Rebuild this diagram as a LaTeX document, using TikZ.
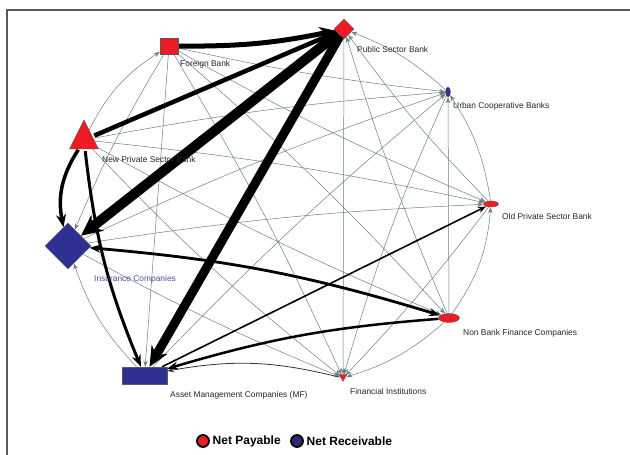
\documentclass[tikz,border=0pt]{standalone}
\usepackage{fontspec}
\setmainfont{Liberation Sans}
\usetikzlibrary{shapes.geometric,arrows.meta}
\definecolor{nred}{HTML}{ED1C24}
\definecolor{nblue}{HTML}{2E3192}
\definecolor{legblue}{HTML}{2B2D6E}
\definecolor{thinc}{RGB}{105,128,128}
\definecolor{framec}{HTML}{5A5A5A}
\pgfdeclarelayer{bg}
\pgfsetlayers{bg,main}
\begin{document}
\begin{tikzpicture}[x=1pt,y=1pt,
  lbl/.style={anchor=west,inner sep=0pt,font=\fontsize{8.4}{10}\selectfont,text=black!85},
  thinedge/.style={draw=thinc,line width=0.5pt,-{Stealth[length=6pt,width=4.5pt]}},
  nodeborder/.style={draw=black!65,line width=0.4pt,inner sep=0pt},
  legtext/.style={anchor=west,inner sep=0pt,font=\bfseries\fontsize{12}{14}\selectfont}
]
\useasboundingbox (0,0) rectangle (630,455);
\draw[framec,line width=1.8pt] (7,0) -- (7,445) -- (630,445);

% nodes
\node[diamond,fill=nred,nodeborder,minimum size=20pt] (psb) at (344,426) {};
\node[rectangle,fill=nred,nodeborder,minimum width=18pt,minimum height=16pt] (fb) at (169,409) {};
\node[ellipse,fill=nblue,nodeborder,minimum width=5pt,minimum height=10pt] (ucb) at (448,363) {};
\node[circle,inner sep=0pt,minimum size=22pt] (npsb) at (84,315) {};
\filldraw[fill=nred,draw=black!65,line width=0.4pt] (69.5,306) -- (84,335) -- (98.5,306) -- cycle;
\node[diamond,fill=nblue,nodeborder,minimum size=46pt] (ic) at (68,209) {};
\node[ellipse,fill=nred,nodeborder,minimum width=15pt,minimum height=6pt] (opsb) at (491,251) {};
\node[ellipse,fill=nred,nodeborder,minimum width=21pt,minimum height=9pt] (nbfc) at (449,137) {};
\node[rectangle,fill=nblue,nodeborder,minimum width=45pt,minimum height=17pt] (amc) at (144.5,79.5) {};
\node[circle,inner sep=0pt,minimum size=7pt] (fi) at (343,77) {};
\filldraw[fill=nred,draw=black!65,line width=0.3pt] (339,80.5) -- (347,80.5) -- (343,73.5) -- cycle;

% labels
\node[lbl] (lpsb) at (357,405) {Public Sector Bank};
\node[lbl] (lfb) at (180,391) {Foreign Bank};
\node[lbl] (lucb) at (453,349) {Urban Cooperative Banks};
\node[lbl] (lnpsb) at (102,295) {New Private Sector Bank};
\node[lbl,text=nblue!85!white] (lic) at (94,176) {Insurance Companies};
\node[lbl] (lopsb) at (502,238) {Old Private Sector Bank};
\node[lbl] (lnbfc) at (463,122) {Non Bank Finance Companies};
\node[lbl] (lamc) at (170,60) {Asset Management Companies (MF)};
\node[lbl] (lfi) at (350,63) {Financial Institutions};

% legend
\node[circle,fill=nred,draw=black,line width=1.8pt,minimum size=12pt,inner sep=0pt] (lp) at (203,14) {};
\node[legtext] (lpt) at (212.5,14) {Net Payable};
\node[circle,fill=legblue,draw=black,line width=1.8pt,minimum size=12pt,inner sep=0pt] (lr) at (297,14) {};
\node[legtext] (lrt) at (306.5,14) {Net Receivable};

\begin{pgfonlayer}{bg}
% thin edges
\draw[thinedge] (ucb) to[bend right=10] (psb);
\draw[thinedge] (npsb) to[bend left=15] (fb);
\draw[thinedge] (amc) to[bend left=12] (ic);
\draw[thinedge] (nbfc) to[bend left=12] (fi);
\draw[thinedge] (nbfc) to[bend right=15] (opsb);
\draw[thinedge] (opsb) to[bend right=12] (ucb);
\draw[thinedge] (opsb) to[bend left=4] (psb);
\draw[thinedge] (nbfc) to[bend left=3] (psb);
\draw[thinedge] (psb) -- (fi);
\draw[thinedge] (fb) to[bend right=3] (ucb);
\draw[thinedge] (fb) to[bend right=3] (opsb);
\draw[thinedge] (fb) to[bend left=3] (nbfc);
\draw[thinedge] (fb) -- (amc);
\draw[thinedge] (fb) to[bend left=3] (fi);
\draw[thinedge] (fb) to[bend right=4] (ic);
\draw[thinedge] (npsb) to[bend left=3] (ucb);
\draw[thinedge] (ic) to[bend left=3] (ucb);
\draw[thinedge] (nbfc) -- (ucb);
\draw[thinedge] (amc) to[bend left=3] (ucb);
\draw[thinedge] (ucb) to[bend right=4] (fi);
\draw[thinedge] (npsb) to[bend left=3] (opsb);
\draw[thinedge] (npsb) to[bend right=3] (nbfc);
\draw[thinedge] (npsb) to[bend right=4] (fi);
\draw[thinedge] (ic) to[bend left=3] (opsb);
\draw[thinedge] (ic) to[bend right=3] (fi);
\draw[thinedge] (opsb) to[bend left=3] (fi);
% medium edges
\draw[line width=1.6pt,-{Stealth[length=8pt,width=6pt]}] (amc) -- (opsb);
\draw[line width=0.8pt,black!80,-{Stealth[length=7pt,width=5pt]}] (fi) to[bend right=12] (amc);
% thick edges
\draw[line width=2.5pt,-{Stealth[length=11pt,width=8pt]}] (nbfc) to[bend right=6] (amc);
\draw[line width=2.8pt,{Stealth[length=11pt,width=8pt]}-{Stealth[length=11pt,width=8pt]}] (ic) to[bend left=6] (nbfc);
\draw[line width=3pt,-{Stealth[length=12pt,width=9pt]}] (npsb) to[bend right=8] (amc);
\draw[line width=3.5pt,-{Stealth[length=13pt,width=10pt]}] (npsb) to[bend right=22] (ic);
\draw[line width=4.5pt,-{Stealth[length=14pt,width=12pt]}] (npsb) -- (psb);
\draw[line width=5pt,-{Stealth[length=16pt,width=14pt]}] (fb) to[bend right=6] (psb);
\draw[line width=9pt,-{Stealth[length=20pt,width=18pt]}] (psb) -- (amc);
\draw[line width=10pt,-{Stealth[length=21pt,width=20pt]}] (psb) -- (ic);
\end{pgfonlayer}
\end{tikzpicture}
\end{document}
